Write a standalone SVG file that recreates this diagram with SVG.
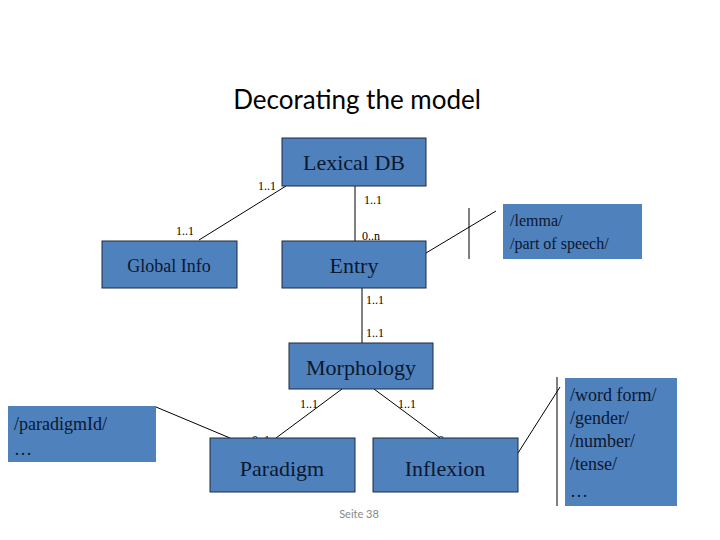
<svg xmlns="http://www.w3.org/2000/svg" width="720" height="540" viewBox="0 0 720 540">
<style>
.n{fill:#4f81bd;stroke:#1c2b3c;stroke-width:1}
.a{fill:#4f81bd}
.t{font-family:"Liberation Serif",serif;fill:#0b1830}
.c{font-family:"Liberation Serif",serif;font-size:12px;fill:#000}
.l{stroke:#000;stroke-width:1;fill:none}
</style>
<rect width="720" height="540" fill="#fff"/>
<text x="357" y="109" text-anchor="middle" font-family="Lato,'Open Sans',sans-serif" font-size="26" fill="#000">Decorating the model</text>
<g id="connectors">
<line class="l" x1="286" y1="186" x2="199" y2="240"/>
<line class="l" x1="355" y1="186" x2="355" y2="241"/>
<line class="l" x1="426" y1="253" x2="496" y2="211"/>
<line class="l" x1="469" y1="208" x2="469" y2="259"/>
<line class="l" x1="362" y1="288" x2="362" y2="343"/>
<line class="l" x1="342" y1="389" x2="276" y2="438"/>
<line class="l" x1="374" y1="389" x2="440" y2="438"/>
<line class="l" x1="156" y1="407" x2="230" y2="438"/>
<line class="l" x1="518" y1="453" x2="560" y2="387"/>
<line class="l" x1="557" y1="377" x2="557" y2="506"/>
<text class="c" x="258" y="190">1..1</text>
<text class="c" x="364" y="204">1..1</text>
<text class="c" x="176" y="235">1..1</text>
<text class="c" x="362" y="240">0..n</text>
<text class="c" x="366" y="304">1..1</text>
<text class="c" x="366" y="337">1..1</text>
<text class="c" x="300" y="408">1..1</text>
<text class="c" x="398" y="408">1..1</text>
<text class="c" x="252" y="444">0..1</text>
<text class="c" x="438" y="444">0..n</text>
</g>
<g id="lexicaldb"><rect class="n" x="282" y="138" width="144" height="48"/><text class="t" x="354" y="170" text-anchor="middle" font-size="22">Lexical DB</text></g>
<g id="globalinfo"><rect class="n" x="102" y="241" width="135" height="47"/><text class="t" x="169" y="272" text-anchor="middle" font-size="18">Global Info</text></g>
<g id="entry"><rect class="n" x="282" y="241" width="144" height="47"/><text class="t" x="354" y="273" text-anchor="middle" font-size="22">Entry</text></g>
<g id="lemma"><rect class="a" x="503" y="204" width="139" height="55"/><text class="t" x="510" y="226" font-size="16">/lemma/</text><text class="t" x="510" y="249" font-size="16">/part of speech/</text></g>
<g id="morphology"><rect class="n" x="289" y="343" width="144" height="46"/><text class="t" x="361" y="375" text-anchor="middle" font-size="22">Morphology</text></g>
<g id="paradigmid"><rect class="a" x="8" y="406" width="148" height="56"/><text class="t" x="14" y="430" font-size="18">/paradigmId/</text><text class="t" x="14" y="455" font-size="18">…</text></g>
<g id="paradigm"><rect class="n" x="210" y="438" width="145" height="54"/><text class="t" x="282" y="476" text-anchor="middle" font-size="22">Paradigm</text></g>
<g id="inflexion"><rect class="n" x="373" y="438" width="145" height="54"/><text class="t" x="445" y="476" text-anchor="middle" font-size="22">Inflexion</text></g>
<g id="wordform"><rect class="a" x="565" y="378" width="112" height="128"/>
<text class="t" x="570" y="401" font-size="18">/word form/</text>
<text class="t" x="570" y="424" font-size="18">/gender/</text>
<text class="t" x="570" y="447" font-size="18">/number/</text>
<text class="t" x="570" y="470" font-size="18">/tense/</text>
<text class="t" x="570" y="497" font-size="18">…</text></g>
<text x="359" y="518" text-anchor="middle" font-family="Lato,sans-serif" font-size="11" fill="#888">Seite 38</text>
</svg>
